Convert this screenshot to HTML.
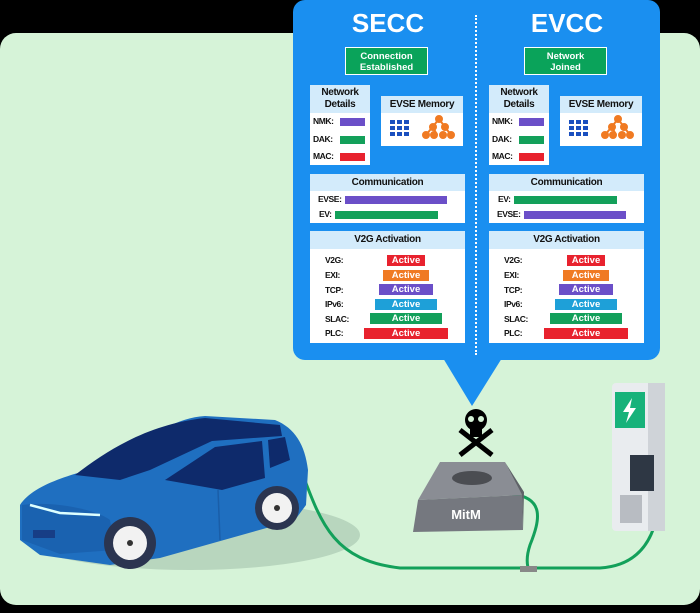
<!DOCTYPE html>
<html><head><meta charset="utf-8"><style>
*{margin:0;padding:0;box-sizing:border-box}
body{width:700px;height:613px;background:#000;position:relative;overflow:hidden;font-family:"Liberation Sans",sans-serif}
.bg{position:absolute;left:0;top:33px;width:700px;height:572px;background:#d6f3d8;border-radius:16px}
.panel{position:absolute;left:293px;top:0;width:367px;height:360px;background:#1a8ff0;border-radius:12px}
.col{position:absolute;top:0;width:156px;height:360px}
.t{position:absolute;left:0;width:156px;text-align:center;top:8px;color:#fff;font-weight:bold;font-size:26px}
.st{position:absolute;left:35px;top:47px;width:83px;height:28px;background:#0aa35a;border:1.5px solid #fff;color:#fff;font-weight:bold;font-size:9.5px;line-height:11px;text-align:center;padding-top:3px}
.box{position:absolute;background:#fff}
.hd{background:#d3ebfb;color:#111;font-weight:bold;font-size:10px;text-align:center;letter-spacing:-0.3px}
.lb{position:absolute;font-weight:bold;font-size:8.5px;color:#111;letter-spacing:-0.4px}
.bar{position:absolute;height:8px}
.ab{position:absolute;height:11px;color:#fff;font-weight:bold;font-size:9.5px;text-align:center;line-height:11px}
.dots{position:absolute;left:475px;top:15px;height:340px;border-left:2.5px dotted #fff}
</style></head><body>
<div class="bg"></div>
<svg style="position:absolute;left:0;top:0" width="700" height="613">
<polygon points="443,358 502,358 472,406" fill="#1a8ff0"/>
<ellipse cx="190" cy="535" rx="170" ry="35" fill="#b8d6be"/>
<path d="M298,462 C320,520 330,560 400,568 L600,568 C650,565 668,520 655,452" stroke="#13a05a" stroke-width="3" fill="none"/>
<path d="M512,494 C545,498 540,520 530,545 C525,560 528,566 528,568" stroke="#13a05a" stroke-width="3" fill="none"/>
<rect x="520" y="566" width="17" height="6" fill="#888"/>
<!-- car -->
<path d="M20,505 C35,482 80,472 120,462 C150,435 175,418 205,416 L275,420 C295,428 305,445 308,470 L306,505 L295,520 L160,558 L110,565 L40,555 L20,540 Z" fill="#1f6fc0"/>
<path d="M75,475 C110,448 150,424 205,418 L280,425 L282,436 L212,441 L150,470 L120,480 Z" fill="#0e2a6b"/>
<path d="M165,480 L215,447 L262,441 L265,478 L222,490 Z" fill="#0e2a6b"/>
<path d="M268,440 L285,437 L290,460 L270,468 Z" fill="#0e2a6b"/>
<line x1="218" y1="490" x2="220" y2="540" stroke="#1a5ea8" stroke-width="1.5"/>
<path d="M22,505 C60,500 100,512 110,520 L115,550 L60,554 L22,540 Z" fill="#1a62b0"/>
<path d="M30,505 L60,513 L100,515" stroke="#dff" stroke-width="2.5" fill="none"/>
<rect x="33" y="530" width="22" height="8" fill="#173e86"/>
<circle cx="130" cy="543" r="26" fill="#2b3550"/><circle cx="130" cy="543" r="17" fill="#f2f2f2"/><circle cx="130" cy="543" r="3" fill="#333"/>
<circle cx="277" cy="508" r="22" fill="#2b3550"/><circle cx="277" cy="508" r="15" fill="#f2f2f2"/><circle cx="277" cy="508" r="3" fill="#333"/>
<!-- MitM box -->
<polygon points="440,462 505,462 522,495 418,500" fill="#8a8d94"/>
<ellipse cx="472" cy="478" rx="20" ry="7" fill="#4b4d52"/>
<polygon points="418,500 522,495 523,530 413,532" fill="#75787f"/>
<polygon points="505,462 522,495 523,530 524,492" fill="#5f6268"/>
<text x="466" y="519" font-size="13" font-weight="bold" fill="#fff" text-anchor="middle" font-family="Liberation Sans">MitM</text>
<line x1="460" y1="430" x2="492" y2="455" stroke="#000" stroke-width="5"/>
<line x1="492" y1="430" x2="460" y2="455" stroke="#000" stroke-width="5"/>
<circle cx="476" cy="420" r="11" fill="#000"/><rect x="470" y="425" width="12" height="12" fill="#000"/>
<circle cx="471" cy="419" r="3" fill="#d6f3d8"/><circle cx="481" cy="419" r="3" fill="#d6f3d8"/>
<!-- charger -->
<rect x="612" y="383" width="53" height="148" rx="4" fill="#e9ecef"/>
<rect x="648" y="383" width="17" height="148" fill="#cfd3d8"/>
<rect x="615" y="392" width="30" height="36" fill="#17b27a"/>
<path d="M632,398 L623,412 L629,412 L626,423 L636,408 L630,408 Z" fill="#fff"/>
<rect x="630" y="455" width="24" height="36" fill="#2e3744"/>
<rect x="620" y="495" width="22" height="28" fill="#b8bcc2"/>
</svg>
<div class="panel"></div>
<div class="dots"></div>

<div class="col" style="left:310px">
<div class="t">SECC</div>
<div class="st">Connection<br>Established</div>
<div class="box" style="left:0;top:85px;width:60px;height:80px"><div class="hd" style="height:28px;line-height:12px;padding-top:2px">Network<br>Details</div>
<div class="lb" style="left:3px;top:31px">NMK:</div><div class="bar" style="left:30px;top:33px;width:25px;background:#6b4fc8"></div>
<div class="lb" style="left:3px;top:49px">DAK:</div><div class="bar" style="left:30px;top:51px;width:25px;background:#13a05a"></div>
<div class="lb" style="left:3px;top:66px">MAC:</div><div class="bar" style="left:30px;top:68px;width:25px;background:#e8222e"></div></div>
<div class="box" style="left:71px;top:96px;width:82px;height:50px"><div class="hd" style="height:17px;line-height:17px">EVSE Memory</div>
<svg width="82" height="33"><g fill="#1a4fbf"><rect x="9" y="7" width="5" height="4"/><rect x="16" y="7" width="5" height="4"/><rect x="23" y="7" width="5" height="4"/><rect x="9" y="13" width="5" height="4"/><rect x="16" y="13" width="5" height="4"/><rect x="23" y="13" width="5" height="4"/><rect x="9" y="19" width="5" height="4"/><rect x="16" y="19" width="5" height="4"/><rect x="23" y="19" width="5" height="4"/></g>
<g stroke="#f07a22" stroke-width="2" fill="#f07a22"><line x1="58" y1="6" x2="45" y2="22"/><line x1="58" y1="6" x2="70" y2="22"/><line x1="52" y1="14" x2="56" y2="22"/><circle cx="58" cy="6" r="3"/><circle cx="52" cy="14" r="3"/><circle cx="64" cy="14" r="3"/><circle cx="45" cy="22" r="3"/><circle cx="53" cy="22" r="3"/><circle cx="62" cy="22" r="3"/><circle cx="70" cy="22" r="3"/></g></svg></div>
<div class="box" style="left:0;top:174px;width:155px;height:49px"><div class="hd" style="height:17px;line-height:17px">Communication</div>
<div class="lb" style="left:8px;top:20px">EVSE:</div><div class="bar" style="left:35px;top:22px;width:102px;background:#6b4fc8"></div>
<div class="lb" style="left:9px;top:35px">EV:</div><div class="bar" style="left:25px;top:37px;width:103px;background:#13a05a"></div></div>
<div class="box" style="left:0;top:231px;width:155px;height:112px"><div class="hd" style="height:18px;line-height:18px">V2G Activation</div>
<div class="lb" style="left:15px;top:24px">V2G:</div><div class="ab" style="left:77px;top:24px;width:38px;background:#e8222e">Active</div>
<div class="lb" style="left:15px;top:39px">EXI:</div><div class="ab" style="left:73px;top:39px;width:46px;background:#f07a22">Active</div>
<div class="lb" style="left:15px;top:54px">TCP:</div><div class="ab" style="left:69px;top:53px;width:54px;background:#6b4fc8">Active</div>
<div class="lb" style="left:15px;top:68px">IPv6:</div><div class="ab" style="left:65px;top:68px;width:62px;background:#1ea0d8">Active</div>
<div class="lb" style="left:15px;top:83px">SLAC:</div><div class="ab" style="left:60px;top:82px;width:72px;background:#13a05a">Active</div>
<div class="lb" style="left:15px;top:97px">PLC:</div><div class="ab" style="left:54px;top:97px;width:84px;background:#e8222e">Active</div></div>
</div>

<div class="col" style="left:489px">
<div class="t">EVCC</div>
<div class="st">Network<br>Joined</div>
<div class="box" style="left:0;top:85px;width:60px;height:80px"><div class="hd" style="height:28px;line-height:12px;padding-top:2px">Network<br>Details</div>
<div class="lb" style="left:3px;top:31px">NMK:</div><div class="bar" style="left:30px;top:33px;width:25px;background:#6b4fc8"></div>
<div class="lb" style="left:3px;top:49px">DAK:</div><div class="bar" style="left:30px;top:51px;width:25px;background:#13a05a"></div>
<div class="lb" style="left:3px;top:66px">MAC:</div><div class="bar" style="left:30px;top:68px;width:25px;background:#e8222e"></div></div>
<div class="box" style="left:71px;top:96px;width:82px;height:50px"><div class="hd" style="height:17px;line-height:17px">EVSE Memory</div>
<svg width="82" height="33"><g fill="#1a4fbf"><rect x="9" y="7" width="5" height="4"/><rect x="16" y="7" width="5" height="4"/><rect x="23" y="7" width="5" height="4"/><rect x="9" y="13" width="5" height="4"/><rect x="16" y="13" width="5" height="4"/><rect x="23" y="13" width="5" height="4"/><rect x="9" y="19" width="5" height="4"/><rect x="16" y="19" width="5" height="4"/><rect x="23" y="19" width="5" height="4"/></g>
<g stroke="#f07a22" stroke-width="2" fill="#f07a22"><line x1="58" y1="6" x2="45" y2="22"/><line x1="58" y1="6" x2="70" y2="22"/><line x1="52" y1="14" x2="56" y2="22"/><circle cx="58" cy="6" r="3"/><circle cx="52" cy="14" r="3"/><circle cx="64" cy="14" r="3"/><circle cx="45" cy="22" r="3"/><circle cx="53" cy="22" r="3"/><circle cx="62" cy="22" r="3"/><circle cx="70" cy="22" r="3"/></g></svg></div>
<div class="box" style="left:0;top:174px;width:155px;height:49px"><div class="hd" style="height:17px;line-height:17px">Communication</div>
<div class="lb" style="left:9px;top:20px">EV:</div><div class="bar" style="left:25px;top:22px;width:103px;background:#13a05a"></div>
<div class="lb" style="left:8px;top:35px">EVSE:</div><div class="bar" style="left:35px;top:37px;width:102px;background:#6b4fc8"></div></div>
<div class="box" style="left:0;top:231px;width:155px;height:112px"><div class="hd" style="height:18px;line-height:18px">V2G Activation</div>
<div class="lb" style="left:15px;top:24px">V2G:</div><div class="ab" style="left:78px;top:24px;width:38px;background:#e8222e">Active</div>
<div class="lb" style="left:15px;top:39px">EXI:</div><div class="ab" style="left:74px;top:39px;width:46px;background:#f07a22">Active</div>
<div class="lb" style="left:15px;top:54px">TCP:</div><div class="ab" style="left:70px;top:53px;width:54px;background:#6b4fc8">Active</div>
<div class="lb" style="left:15px;top:68px">IPv6:</div><div class="ab" style="left:66px;top:68px;width:62px;background:#1ea0d8">Active</div>
<div class="lb" style="left:15px;top:83px">SLAC:</div><div class="ab" style="left:61px;top:82px;width:72px;background:#13a05a">Active</div>
<div class="lb" style="left:15px;top:97px">PLC:</div><div class="ab" style="left:55px;top:97px;width:84px;background:#e8222e">Active</div></div>
</div>
</body></html>
